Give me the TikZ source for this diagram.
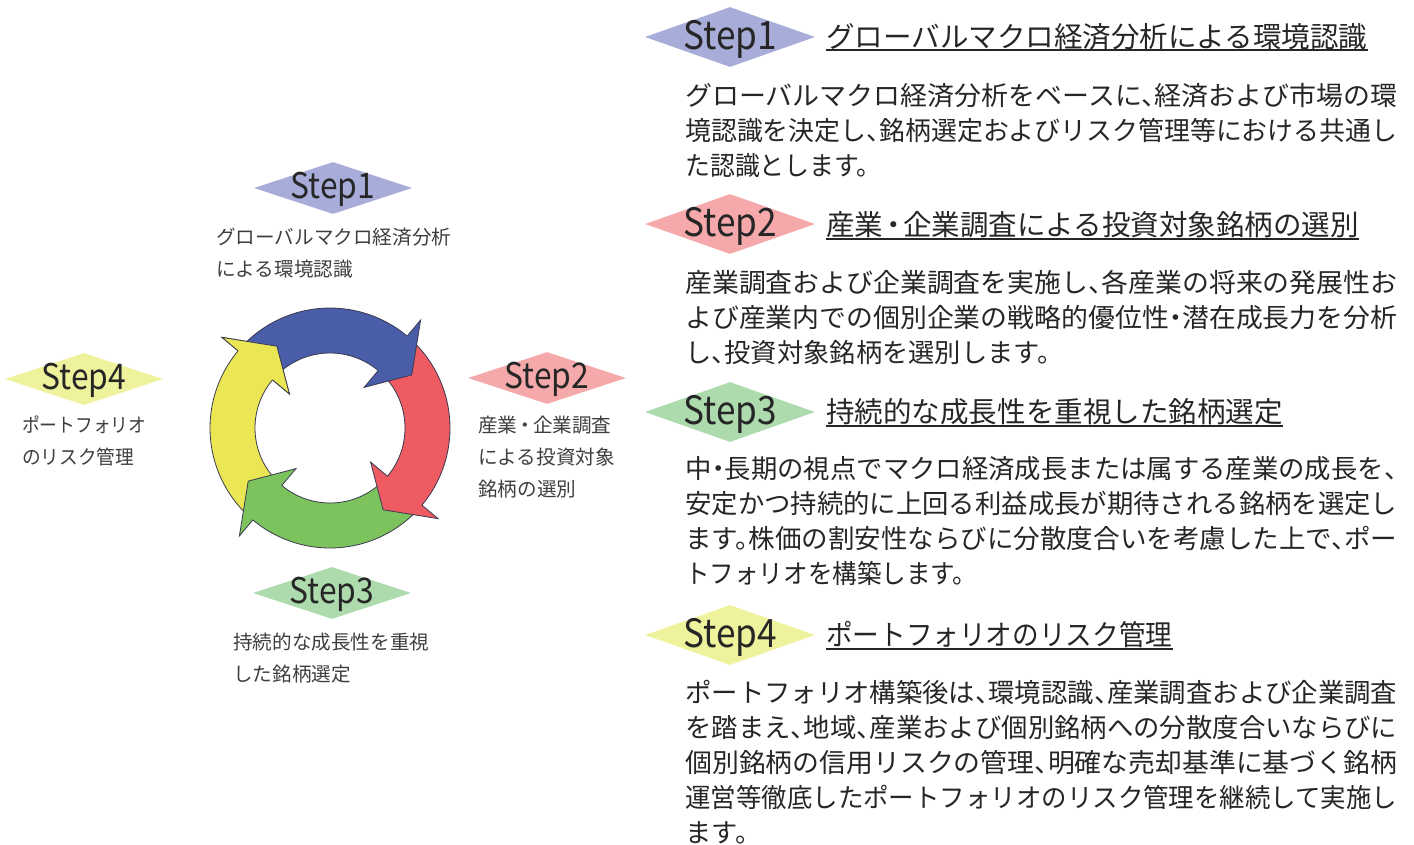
\documentclass[tikz,border=0pt]{standalone}
\usepackage{graphicx}
\usepackage{fontspec}
\setmainfont{Noto Sans CJK JP}[RawFeature={+halt}]
\newfontfamily\stepfont{Noto Sans CJK JP}[FakeStretch=0.9]
\usetikzlibrary{shapes.geometric}
\newcommand\jl[1]{\resizebox{534pt}{\height}{#1}}
\newcommand\fwdot[1]{\makebox[#1][c]{・}}
\definecolor{cblue}{HTML}{4A5DA8}
\definecolor{cred}{HTML}{EE5B63}
\definecolor{cgreen}{HTML}{7CC35E}
\definecolor{cyellow}{HTML}{EBE654}
\definecolor{outl}{HTML}{3A3A50}
\definecolor{dblue}{HTML}{A8ACD8}
\definecolor{dred}{HTML}{F5A9AB}
\definecolor{dgreen}{HTML}{AEDBAE}
\definecolor{dyellow}{HTML}{EFF29C}
\definecolor{txtdark}{HTML}{262626}
\definecolor{txtgray}{HTML}{3E3E3E}
\begin{document}
\begin{tikzpicture}[x=0.75pt,y=-0.75pt,
  bigdia/.style={diamond, draw=none, inner sep=0pt, minimum width=127.5pt, minimum height=45pt},
  smalldia/.style={diamond, draw=none, inner sep=0pt, minimum width=118.5pt, minimum height=39pt},
  bigstep/.style={inner sep=0pt, yshift=-1.5pt, text=txtdark, font={\stepfont\fontsize{29.3}{31}\selectfont}},
  smallstep/.style={inner sep=0pt, yshift=-1pt, text=txtdark, font={\stepfont\fontsize{26.5}{28}\selectfont}},
  titletxt/.style={inner sep=0pt, anchor=west, text=txtdark, font={\fontsize{21.4}{24}\selectfont}},
  bodytxt/.style={inner sep=0pt, anchor=north west, align=left, text=txtdark, font={\fontsize{19.7}{26.25}\selectfont}},
  sidetxt/.style={inner sep=0pt, anchor=north west, align=left, text=txtgray, font={\fontsize{14.7}{24}\selectfont}},
  uline/.style={draw=txtdark, line width=0.9pt},
  arrowline/.style={draw=outl, line width=0.6pt}
]
\useasboundingbox (0,0) rectangle (1414,844);

% ---------- cycle of four arrows ----------
\foreach \k/\col in {3/cyellow,2/cgreen,1/cred,0/cblue}{
  \pgfmathsetmacro\T{135-90*\k}
  \pgfmathsetmacro\B{50-90*\k}
  \pgfmathsetmacro\P{33-90*\k}
  \filldraw[fill=\col, arrowline]
    ({330+120*cos(\T)},{428-120*sin(\T)})
    -- plot[domain=\T:\B, samples=40, variable=\t] ({330+120*cos(\t)},{428-120*sin(\t)})
    -- ({330+141*cos(\B)},{428-141*sin(\B)})
    -- ({330+97.5*cos(\P)},{428-97.5*sin(\P)})
    -- ({330+53*cos(\B)},{428-53*sin(\B)})
    -- ({330+75*cos(\B)},{428-75*sin(\B)})
    -- plot[domain=\B:\T, samples=40, variable=\t] ({330+75*cos(\t)},{428-75*sin(\t)})
    -- cycle;
}
% yellow head again, on top of the blue tail
\fill[cyellow] ({330+141*cos(-220)},{428-141*sin(-220)})
  -- ({330+97.5*cos(-237)},{428-97.5*sin(-237)})
  -- ({330+53*cos(-220)},{428-53*sin(-220)}) -- cycle;
\draw[arrowline] ({330+120*cos(-220)},{428-120*sin(-220)})
  -- ({330+141*cos(-220)},{428-141*sin(-220)})
  -- ({330+97.5*cos(-237)},{428-97.5*sin(-237)})
  -- ({330+53*cos(-220)},{428-53*sin(-220)})
  -- ({330+75*cos(-220)},{428-75*sin(-220)});

% ---------- left-hand step labels ----------
\node[smalldia, fill=dblue] (ld1) at (333,188) {};
\node[smallstep] (ls1) at (ld1) {Step1};
\node[sidetxt] (lt1) at (216,228) {グローバルマクロ経済分析\\による環境認識};

\node[smalldia, fill=dred] (ld2) at (547,378) {};
\node[smallstep] (ls2) at (ld2) {Step2};
\node[sidetxt] (lt2) at (478,416) {産業\fwdot{0.8em}企業調査\\による投資対象\\銘柄の選別};

\node[smalldia, fill=dgreen] (ld3) at (332,593) {};
\node[smallstep] (ls3) at (ld3) {Step3};
\node[sidetxt] (lt3) at (233,633) {持続的な成長性を重視\\した銘柄選定};

\node[smalldia, fill=dyellow] (ld4) at (84,379) {};
\node[smallstep] (ls4) at (ld4) {Step4};
\node[sidetxt] (lt4) at (22,416) {\resizebox{93pt}{\height}{ポートフォリオ}\\\resizebox{84pt}{\height}{のリスク管理}};

% ---------- right-hand descriptions ----------
\node[bigdia, fill=dblue] (rd1) at (730,37) {};
\node[bigstep] (rs1) at (rd1) {Step1};
\node[titletxt] (rt1) at (826,37) {グローバルマクロ経済分析による環境認識};
\draw[uline] (rt1.west |- 0,50) -- (rt1.east |- 0,50);
\node[bodytxt] (rb1) at (685,83.5) {\jl{グローバルマクロ経済分析をベースに、経済および市場の環}\\\jl{境認識を決定し、銘柄選定およびリスク管理等における共通し}\\\resizebox{138pt}{\height}{た認識とします。}};

\node[bigdia, fill=dred] (rd2) at (730,224) {};
\node[bigstep] (rs2) at (rd2) {Step2};
\node[titletxt] (rt2) at (826,225) {産業\fwdot{0.7em}企業調査による投資対象銘柄の選別};
\draw[uline] (rt2.west |- 0,239) -- (rt2.east |- 0,239);
\node[bodytxt] (rb2) at (685,269.5) {\jl{産業調査および企業調査を実施し、各産業の将来の発展性お}\\\jl{よび産業内での個別企業の戦略的優位性・潜在成長力を分析}\\し、投資対象銘柄を選別します。};

\node[bigdia, fill=dgreen] (rd3) at (730,412) {};
\node[bigstep] (rs3) at (rd3) {Step3};
\node[titletxt] (rt3) at (826,412) {持続的な成長性を重視した銘柄選定};
\draw[uline] (rt3.west |- 0,426) -- (rt3.east |- 0,426);
\node[bodytxt] (rb3) at (685,456.5) {\jl{中・長期の視点でマクロ経済成長または属する産業の成長を、}\\\jl{安定かつ持続的に上回る利益成長が期待される銘柄を選定し}\\\jl{ます。株価の割安性ならびに分散度合いを考慮した上で、ポー}\\\resizebox{210pt}{\height}{トフォリオを構築します。}};

\node[bigdia, fill=dyellow] (rd4) at (730,635) {};
\node[bigstep] (rs4) at (rd4) {Step4};
\node[titletxt] (rt4) at (826,635) {\resizebox{259.5pt}{\height}{ポートフォリオのリスク管理}};
\draw[uline] (rt4.west |- 0,649) -- (rt4.east |- 0,649);
\node[bodytxt] (rb4) at (685,679.5) {\jl{ポートフォリオ構築後は、環境認識、産業調査および企業調査}\\\jl{を踏まえ、地域、産業および個別銘柄への分散度合いならびに}\\\jl{個別銘柄の信用リスクの管理、明確な売却基準に基づく銘柄}\\\jl{運営等徹底したポートフォリオのリスク管理を継続して実施し}\\ます。};
\end{tikzpicture}
\end{document}
